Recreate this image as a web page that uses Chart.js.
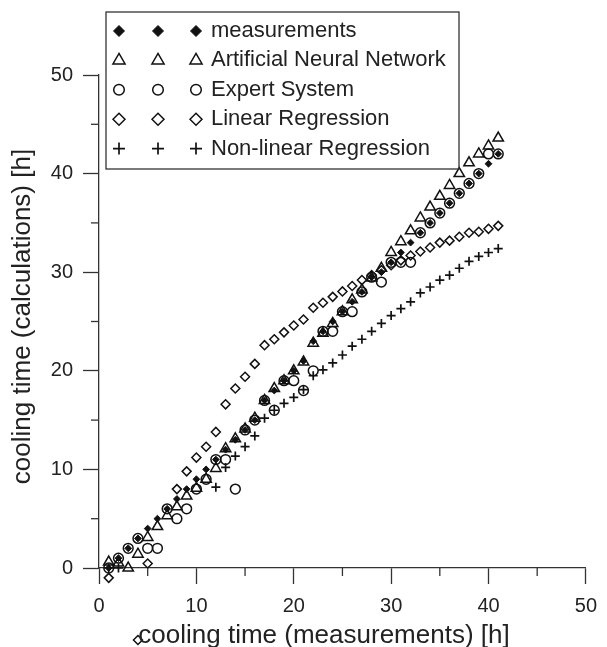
<!DOCTYPE html>
<html>
<head>
<meta charset="utf-8">
<script src="https://cdn.jsdelivr.net/npm/chart.js@4/dist/chart.umd.min.js"></script>
<style>
body { margin:0; background:#fff; }
</style>
</head>
<body>
<canvas id="myChart" width="607" height="647"></canvas>
<script>
// cooling time data, x = measured hours
var xValues = [1,2,3,4,5,6,7,8,9,10,11,12,13,14,15,16,17,18,19,20,21,22,23,24,25,26,27,28,29,30,31,32,33,34,35,36,37,38,39,40,41];
var measurements = [0,1,2,3,4,5,6,7,8,9,10,11,12,13,14,15,17,18,19,20,21,23,24,25,26,27,28,29.5,30,31,32,33,34,35,36,37,38,39,40,41,42];
var annValues = [0.6,0.5,0,1.4,3.1,4.2,5.3,6.2,7.3,8.1,9,10.1,12.1,13.1,14.1,15.2,17,18.2,19,20,20.9,22.8,23.8,24.8,26,27.2,28.2,29.4,30.4,32,33.1,34.2,35.5,36.6,37.7,38.8,40,41.1,42,42.8,43.6];
var expertValues = [0,1,2,3,2,2,6,5,6,8,9,11,11,8,14,15,17,16,19,19,18,20,24,24,26,26,28,29.5,29,31,31,31,34,35,36,37,38,39,40,42,42];
var linRegValues = [-1,null,null,-7.3,0.45,null,null,8,9.8,11.2,12.3,13.8,16.6,18.2,19.4,20.7,22.6,23.2,23.9,24.6,25.2,26.4,26.9,27.5,28.05,28.6,29.2,29.7,30.2,30.7,31.2,31.7,32.1,32.5,33,33.2,33.6,34,34.1,34.4,34.7];
var nonLinRegValues = [0,0,null,null,null,null,null,null,null,null,null,8.2,10.2,11.35,12.3,13.4,15.2,16,16.7,17.3,18.1,19.5,20.1,20.8,21.6,22.5,23.2,24,24.8,25.6,26.3,27,27.9,28.5,29.2,29.7,30.4,31.1,31.6,32,32.4];
var seriesNames = ['measurements','Artificial Neural Network','Expert System','Linear Regression','Non-linear Regression'];
var minorTicks = [5,15,25,35,45];
var xTitle = 'cooling time (measurements) [h]';
var yTitle = 'cooling time (calculations) [h]';

var FONT = '"Liberation Sans", Arial, sans-serif';
var INK = '#222';

function pts(ys) {
  var out = [];
  for (var i = 0; i < xValues.length; i++) {
    if (ys[i] !== null) out.push({x: xValues[i], y: ys[i]});
  }
  return out;
}

var styles = [
  {pointStyle:'rectRot', radius:3.4, fill:'#111', bw:1, lr:5.5},
  {pointStyle:'triangle', radius:6, fill:'rgba(0,0,0,0)', bw:1.5, lr:7},
  {pointStyle:'circle', radius:4.9, fill:'rgba(0,0,0,0)', bw:1.5, lr:5.3},
  {pointStyle:'rectRot', radius:4.5, fill:'rgba(0,0,0,0)', bw:1.5, lr:6},
  {pointStyle:'cross', radius:4.5, fill:'rgba(0,0,0,0)', bw:1.7, lr:6}
];
var allSeries = [measurements, annValues, expertValues, linRegValues, nonLinRegValues];

var datasets = [];
for (var i = 0; i < allSeries.length; i++) {
  datasets.push({
    label: seriesNames[i],
    data: pts(allSeries[i]),
    pointStyle: styles[i].pointStyle,
    pointRadius: styles[i].radius,
    pointBorderWidth: styles[i].bw,
    pointBackgroundColor: styles[i].fill,
    pointBorderColor: '#111',
    clip: false
  });
}

// points below the x axis are skipped by chart.js, draw them anyway
var outsidePoints = {
  id: 'outsidePoints',
  afterDatasetsDraw: function(chart) {
    var a = chart.chartArea;
    var whole = {left: 0, top: 0, right: chart.width, bottom: chart.height};
    chart.getSortedVisibleDatasetMetas().forEach(function(meta) {
      meta.data.forEach(function(el) {
        if (el.y > a.bottom + 0.5 || el.x < a.left - 0.5) el.draw(chart.ctx, whole);
      });
    });
  }
};

// legend box with three symbols per row, like the original
var boxLegend = {
  id: 'boxLegend',
  afterDraw: function(chart) {
    var ctx = chart.ctx, a = chart.chartArea;
    var left = a.left + 7, top = a.top - 63;
    ctx.save();
    ctx.strokeStyle = '#333';
    ctx.lineWidth = 1.3;
    ctx.strokeRect(left, top, 353, 157);
    for (var i = 0; i < seriesNames.length; i++) {
      var y = top + 19 + i * 29.4;
      var st = styles[i];
      var xs = [left + 13, left + 52, left + 90];
      for (var k = 0; k < 3; k++) {
        ctx.fillStyle = st.fill;
        ctx.strokeStyle = '#111';
        ctx.lineWidth = st.bw;
        Chart.helpers.drawPoint(ctx, {pointStyle: st.pointStyle, radius: st.lr, borderWidth: st.bw, rotation: 0}, xs[k], y);
      }
      ctx.fillStyle = INK;
      ctx.font = '22px ' + FONT;
      ctx.textAlign = 'left';
      ctx.textBaseline = 'middle';
      ctx.fillText(seriesNames[i], left + 105, y);
    }
    ctx.restore();
  }
};

// minor ticks and axis titles
var extras = {
  id: 'extras',
  afterDraw: function(chart) {
    var ctx = chart.ctx, a = chart.chartArea;
    var xs = chart.scales.x, ys = chart.scales.y;
    ctx.save();
    ctx.strokeStyle = '#333';
    ctx.lineWidth = 1.3;
    minorTicks.forEach(function(v) {
      var px = xs.getPixelForValue(v);
      ctx.beginPath(); ctx.moveTo(px, a.bottom); ctx.lineTo(px, a.bottom + 8); ctx.stroke();
      var py = ys.getPixelForValue(v);
      ctx.beginPath(); ctx.moveTo(a.left, py); ctx.lineTo(a.left - 8, py); ctx.stroke();
    });
    ctx.fillStyle = INK;
    ctx.font = '26px ' + FONT;
    ctx.textAlign = 'center';
    ctx.textBaseline = 'alphabetic';
    ctx.fillText(xTitle, a.left + 225, a.bottom + 75);
    ctx.translate(30, (a.top + a.bottom) / 2 - 5);
    ctx.rotate(-Math.PI / 2);
    ctx.fillText(yTitle, 0, 0);
    ctx.restore();
  }
};

var axisCommon = function(fitFn) {
  return {
    type: 'linear', min: 0, max: 50,
    ticks: {stepSize: 10, color: INK, font: {size: 20, family: FONT}, padding: 10, maxRotation: 0},
    grid: {drawOnChartArea: false, drawTicks: true, tickLength: 16, tickWidth: 1.3, tickColor: '#333'},
    border: {display: true, color: '#333', width: 1.3},
    afterFit: fitFn
  };
};

var ctx = document.getElementById('myChart');
var myChart = new Chart(ctx, {
  type: 'scatter',
  data: {datasets: datasets},
  options: {
    responsive: false,
    devicePixelRatio: 1,
    animation: false,
    events: [],
    layout: {padding: {left: 0, top: 75, right: 16, bottom: 0}},
    plugins: {legend: {display: false}, tooltip: {enabled: false}},
    scales: {
      x: axisCommon(function(s) { s.height = 79; }),
      y: axisCommon(function(s) { s.width = 99; })
    }
  },
  plugins: [outsidePoints, boxLegend, extras]
});
</script>
</body>
</html>
